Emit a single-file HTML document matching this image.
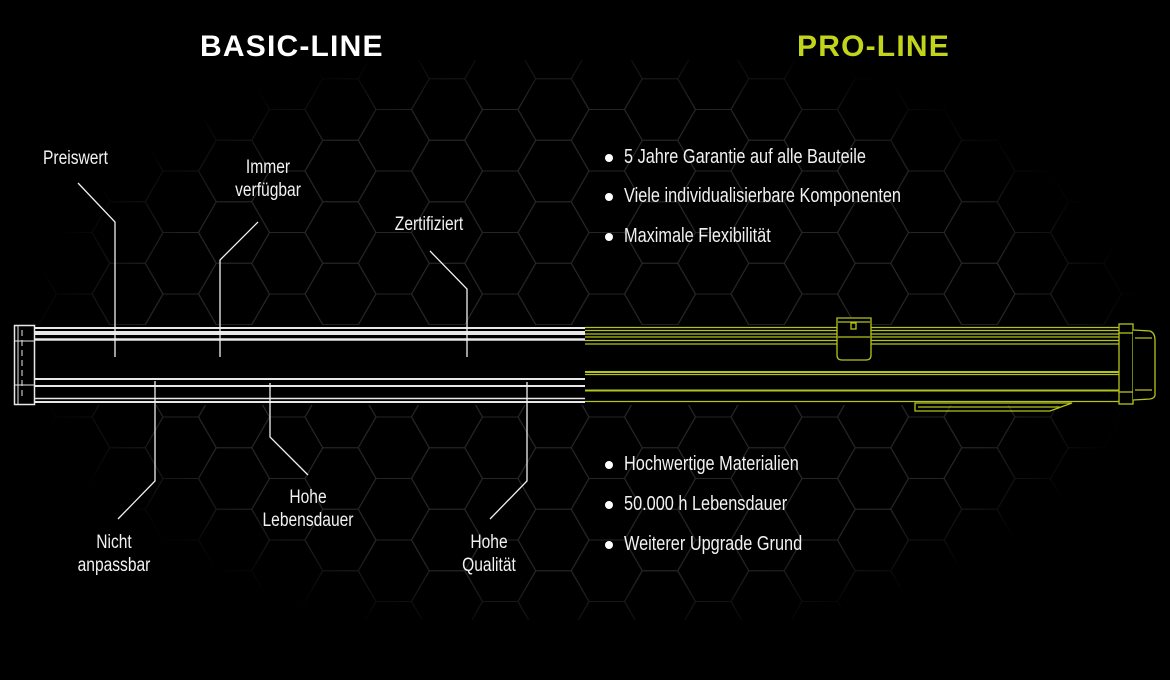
<!DOCTYPE html>
<html><head><meta charset="utf-8"><style>
html,body{margin:0;padding:0;background:#000;}
body{width:1170px;height:680px;position:relative;overflow:hidden;font-family:"Liberation Sans Narrow","Liberation Sans",sans-serif;color:#fff;}
svg{position:absolute;left:0;top:0;}
.t{position:absolute;font-size:19px;line-height:23px;text-align:center;white-space:nowrap;color:#f2f2f2;transform:scaleX(0.82);transform-origin:center top;}
.tl{transform-origin:left top;text-align:left;}
.h{position:absolute;top:30px;font-family:"Liberation Sans",sans-serif;font-weight:bold;font-size:30px;letter-spacing:1.2px;}
.b{position:absolute;left:610px;font-size:20px;line-height:24px;white-space:nowrap;color:#f2f2f2;padding-left:14px;}
.b:before{content:"";position:absolute;left:-5px;top:9px;width:8px;height:8px;border-radius:50%;background:#fff;}
.b span{display:inline-block;transform:scaleX(0.815);transform-origin:left top;}
</style></head><body>
<svg width="1170" height="680" viewBox="0 0 1170 680">
<defs>
<pattern id="hx" patternUnits="userSpaceOnUse" x="234" y="171" width="106.5" height="61.5">
<g fill="none" stroke="#252525" stroke-width="1.1">
<path d="M-35.5 0 L-17.75 -30.75 L17.75 -30.75 L35.5 0 L17.75 30.75 L-17.75 30.75 Z"/>
<path d="M71 0 L88.75 -30.75 L124.25 -30.75 L142 0 L124.25 30.75 L88.75 30.75 Z"/>
<path d="M-35.5 61.5 L-17.75 30.75 L17.75 30.75 L35.5 61.5 L17.75 92.25 L-17.75 92.25 Z"/>
<path d="M71 61.5 L88.75 30.75 L124.25 30.75 L142 61.5 L124.25 92.25 L88.75 92.25 Z"/>
<path d="M17.75 30.75 L35.5 0 L71 0 L88.75 30.75 L71 61.5 L35.5 61.5 Z"/>
</g>
</pattern>
<radialGradient id="rg" cx="585" cy="340" r="560" gradientUnits="userSpaceOnUse" gradientTransform="translate(585 340) scale(1 0.55) translate(-585 -340)">
<stop offset="0" stop-color="#fff"/><stop offset="0.78" stop-color="#fff"/><stop offset="1" stop-color="#000"/>
</radialGradient>
<mask id="mk"><rect x="0" y="0" width="1170" height="680" fill="url(#rg)"/></mask>
</defs>
<rect x="0" y="60" width="1170" height="560" fill="url(#hx)" mask="url(#mk)"/>
<rect x="0" y="325" width="1120" height="80" fill="#000"/>
<g stroke="#e8e8e8" fill="none">
<line x1="35" y1="328" x2="585" y2="328" stroke-width="2"/>
<line x1="35" y1="333" x2="585" y2="333" stroke-width="4"/>
<line x1="35" y1="339.5" x2="585" y2="339.5" stroke-width="2.5"/>
<line x1="35" y1="379" x2="585" y2="379" stroke-width="2"/>
<line x1="35" y1="386" x2="585" y2="386" stroke-width="2"/>
<line x1="35" y1="398.5" x2="585" y2="398.5" stroke-width="1.5"/>
<line x1="35" y1="402" x2="585" y2="402" stroke-width="2"/>
<rect x="14.5" y="325.5" width="20" height="79" stroke-width="1.5"/>
<line x1="18" y1="326" x2="18" y2="404" stroke-width="1"/>
<line x1="22" y1="330" x2="22" y2="400" stroke-width="1" stroke-dasharray="6 4"/>
<line x1="15" y1="341" x2="34" y2="341" stroke-width="1"/>
<line x1="15" y1="385" x2="34" y2="385" stroke-width="1"/>
</g>
<g stroke="#b5c41a" fill="none" stroke-width="1.3">
<line x1="585" y1="327.5" x2="1120" y2="327.5"/>
<line x1="585" y1="330.5" x2="1120" y2="330.5"/>
<line x1="585" y1="334" x2="1120" y2="334"/>
<line x1="585" y1="337" x2="1120" y2="337"/>
<line x1="585" y1="340.5" x2="1120" y2="340.5"/>
<line x1="585" y1="344" x2="1120" y2="344"/>
<line x1="585" y1="372" x2="1120" y2="372" stroke-width="2"/>
<line x1="585" y1="374.5" x2="1120" y2="374.5"/>
<line x1="585" y1="390.5" x2="1120" y2="390.5" stroke-width="2"/>
<line x1="585" y1="401.5" x2="1120" y2="401.5"/>
<path d="M837 344 L837 355 Q837 360 842 360 L866 360 Q871 360 871 355 L871 318 L837 318 Z" fill="#000"/>
<line x1="838" y1="322" x2="870" y2="322"/>
<line x1="838" y1="337" x2="870" y2="337"/>
<rect x="851" y="323" width="5" height="6"/>
<rect x="1119" y="324" width="14" height="80" fill="#000"/>
<line x1="1119" y1="333" x2="1133" y2="333"/>
<line x1="1119" y1="392" x2="1133" y2="392"/>
<path d="M1133 330 L1150 331 Q1155 333 1155 340 L1155 395 Q1155 398 1150 399 L1133 400" fill="#000"/>
<line x1="1135" y1="338" x2="1152" y2="338"/>
<line x1="1135" y1="390" x2="1152" y2="390"/>
<path d="M915 403 L915 411 L1050 411 L1072 403 Z"/>
<line x1="918" y1="407" x2="1060" y2="407"/>
</g>
<g stroke="#f0f0f0" stroke-width="1.3" fill="none">
<polyline points="78,183 115,222 115,357"/>
<polyline points="258,222 220,260 220,357"/>
<polyline points="430,251 467,289 467,357"/>
<polyline points="155,381 155,481 118,519"/>
<polyline points="270,383 270,437 308,475"/>
<polyline points="527,382 527,481 490,519"/>
</g>
</svg>
<div class="h" style="left:200px;color:#fff;">BASIC-LINE</div>
<div class="h" style="left:797px;color:#c3d51b;">PRO-LINE</div>
<div class="t tl" style="left:43px;top:147px;">Preiswert</div>
<div class="t" style="left:208px;top:156px;width:120px;">Immer<br>verfügbar</div>
<div class="t" style="left:369px;top:213px;width:120px;">Zertifiziert</div>
<div class="t" style="left:54px;top:531px;width:120px;">Nicht<br>anpassbar</div>
<div class="t" style="left:248px;top:486px;width:120px;">Hohe<br>Lebensdauer</div>
<div class="t" style="left:429px;top:531px;width:120px;">Hohe<br>Qualität</div>
<div class="b" style="top:145px;"><span>5 Jahre Garantie auf alle Bauteile</span></div>
<div class="b" style="top:184px;"><span>Viele individualisierbare Komponenten</span></div>
<div class="b" style="top:224px;"><span>Maximale Flexibilität</span></div>
<div class="b" style="top:452px;"><span>Hochwertige Materialien</span></div>
<div class="b" style="top:492px;"><span>50.000 h Lebensdauer</span></div>
<div class="b" style="top:532px;"><span>Weiterer Upgrade Grund</span></div>
</body></html>
